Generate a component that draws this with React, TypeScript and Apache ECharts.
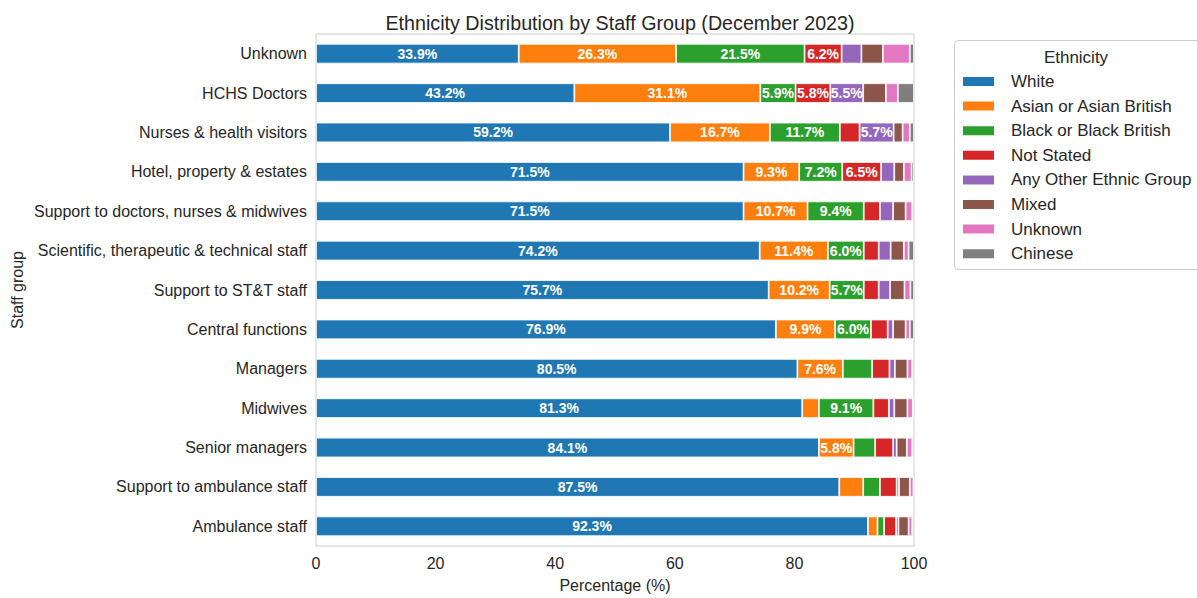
import React, { useEffect, useRef } from 'react';
import * as echarts from 'echarts';

const staffGroups = [
  'Unknown',
  'HCHS Doctors',
  'Nurses & health visitors',
  'Hotel, property & estates',
  'Support to doctors, nurses & midwives',
  'Scientific, therapeutic & technical staff',
  'Support to ST&T staff',
  'Central functions',
  'Managers',
  'Midwives',
  'Senior managers',
  'Support to ambulance staff',
  'Ambulance staff',
];

const ethnicities = [
  'White',
  'Asian or Asian British',
  'Black or Black British',
  'Not Stated',
  'Any Other Ethnic Group',
  'Mixed',
  'Unknown',
  'Chinese',
];

const white = [33.9, 43.2, 59.2, 71.5, 71.5, 74.2, 75.7, 76.9, 80.5, 81.3, 84.1, 87.5, 92.3];
const asian = [26.3, 31.1, 16.7, 9.3, 10.7, 11.4, 10.2, 9.9, 7.6, 2.8, 5.8, 4.0, 1.6];
const black = [21.5, 5.9, 11.7, 7.2, 9.4, 6.0, 5.7, 6.0, 4.9, 9.1, 3.6, 2.8, 1.1];
const notStated = [6.2, 5.8, 3.3, 6.5, 2.7, 2.5, 2.5, 2.8, 2.9, 2.6, 3.0, 2.8, 2.0];
const otherGroup = [3.3, 5.5, 5.7, 2.2, 2.2, 2.0, 1.9, 0.9, 0.9, 0.9, 0.6, 0.4, 0.4];
const mixed = [3.6, 3.8, 1.5, 1.6, 2.1, 2.2, 2.4, 2.1, 2.1, 2.2, 1.7, 1.8, 1.7];
const unknownEth = [4.5, 2.0, 1.2, 1.3, 1.1, 0.8, 1.0, 0.7, 0.8, 0.9, 0.9, 0.6, 0.6];
const chinese = [0.7, 2.7, 0.7, 0.4, 0.3, 0.9, 0.6, 0.7, 0.3, 0.2, 0.3, 0.1, 0.3];

const seriesValues = [white, asian, black, notStated, otherGroup, mixed, unknownEth, chinese];
const colors = ['#1f77b4', '#ff7f0e', '#2ca02c', '#d62728', '#9467bd', '#8c564b', '#e377c2', '#7f7f7f'];

const FONT = '"Liberation Sans", Arial, sans-serif';
const TEXT = '#262626';

export default function App() {
  const ref = useRef<HTMLDivElement>(null);
  useEffect(() => {
    if (!ref.current) return;
    const chart = echarts.init(ref.current, null, { renderer: 'svg' });
    chart.setOption({
      animation: false,
      backgroundColor: '#ffffff',
      textStyle: { fontFamily: FONT },
      title: {
        text: 'Ethnicity Distribution by Staff Group (December 2023)',
        left: 615,
        textAlign: 'center',
        top: 8,
        textStyle: { fontFamily: FONT, fontSize: 19.7, fontWeight: 'normal', color: TEXT },
      },
      grid: {
        left: 316,
        right: 283,
        top: 34,
        bottom: 47,
        show: true,
        borderColor: '#cccccc',
        borderWidth: 1,
        containLabel: false,
      },
      legend: {
        orient: 'vertical',
        left: 961,
        top: 73,
        padding: 0,
        itemWidth: 33,
        itemHeight: 11,
        itemGap: 7.6,
        icon: 'rect',
        data: ethnicities,
        textStyle: { fontFamily: FONT, fontSize: 17, color: TEXT, padding: [0, 0, 0, 11] },
      },
      graphic: [
        {
          type: 'rect',
          shape: { x: 954.5, y: 40.5, width: 260, height: 229, r: 4 },
          style: { fill: '#ffffff', stroke: '#cccccc', lineWidth: 1 },
          z: -1,
          silent: true,
        },
        {
          type: 'text',
          x: 1076,
          y: 57,
          style: {
            text: 'Ethnicity',
            fontFamily: FONT,
            fontSize: 17,
            fill: TEXT,
            textAlign: 'center',
            textVerticalAlign: 'middle',
          },
        },
      ],
      xAxis: {
        type: 'value',
        min: 0,
        max: 100,
        interval: 20,
        name: 'Percentage (%)',
        nameLocation: 'middle',
        nameGap: 31,
        nameTextStyle: { fontFamily: FONT, fontSize: 16, color: TEXT },
        axisLine: { show: false },
        axisTick: { show: false },
        splitLine: { show: false },
        axisLabel: { fontFamily: FONT, fontSize: 16, color: TEXT, margin: 9 },
      },
      yAxis: {
        type: 'category',
        data: staffGroups,
        inverse: true,
        name: 'Staff group',
        nameLocation: 'middle',
        nameGap: 291,
        nameRotate: 90,
        nameTextStyle: { fontFamily: FONT, fontSize: 16, color: TEXT },
        axisLine: { show: false },
        axisTick: { show: false },
        splitLine: { show: false },
        axisLabel: { fontFamily: FONT, fontSize: 16, color: TEXT, margin: 9 },
      },
      series: ethnicities.map((name, i) => ({
        name,
        type: 'bar',
        stack: 'total',
        barWidth: '50%',
        data: seriesValues[i],
        itemStyle: { color: colors[i], borderColor: '#ffffff', borderWidth: 0.8 },
        label: {
          show: true,
          position: 'inside',
          color: '#ffffff',
          fontFamily: FONT,
          fontSize: 14,
          fontWeight: 'bold',
          formatter: (p: any) => (p.value >= 5 ? `${Number(p.value).toFixed(1)}%` : ''),
        },
      })),
    });
    return () => chart.dispose();
  }, []);
  return <div ref={ref} style={{ position: 'fixed', left: 0, top: 0, width: 1197, height: 598 }} />;
}
